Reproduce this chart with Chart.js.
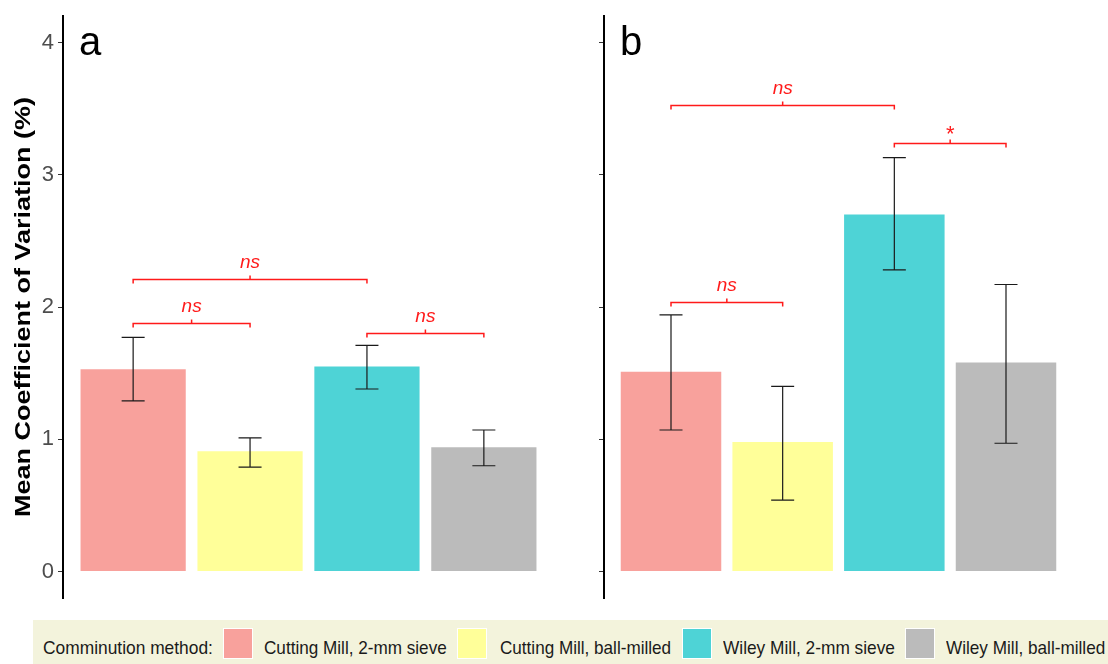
<!DOCTYPE html>
<html>
<head>
<meta charset="utf-8">
<script src="https://cdn.jsdelivr.net/npm/chart.js@4.4.1/dist/chart.umd.min.js"></script>
<style>
  body { margin: 0; background: #fff; width: 1108px; height: 664px; overflow: hidden; position: relative; font-family: 'Liberation Sans', Arial, sans-serif; }
  #ca { position: absolute; left: 0; top: 0; }
  #cb { position: absolute; left: 560px; top: 0; }
  #legend { position: absolute; left: 33px; top: 620px; width: 1075px; height: 44px; background: #f3f3dc; }
  .sw { position: absolute; top: 8px; width: 30px; height: 31px; border: 1px solid #fff; box-sizing: border-box; }
  .lt { position: absolute; top: 18px; font-size: 19px; line-height: 19px; white-space: nowrap; transform-origin: 0 0; color: #1a1a1a; }
</style>
</head>
<body>
<canvas id="ca" width="560" height="610"></canvas>
<canvas id="cb" width="548" height="610"></canvas>
<div id="legend"></div>
<script>
// groups (same for both panels)
const methods = ['Cutting Mill, 2-mm sieve', 'Cutting Mill, ball-milled', 'Wiley Mill, 2-mm sieve', 'Wiley Mill, ball-milled'];
const colors = ['#F8A19C', '#FFFF99', '#4ED3D6', '#BBBBBB'];
const yTicks = [0, 1, 2, 3, 4];

// panel a
const meanA = [1.53, 0.91, 1.55, 0.94];
const lowA  = [1.29, 0.79, 1.38, 0.80];
const highA = [1.77, 1.01, 1.71, 1.07];
// [from, to, height, label]
const bracketsA = [[0, 1, 1.88, 'ns'], [0, 2, 2.21, 'ns'], [2, 3, 1.80, 'ns']];

// panel b
const meanB = [1.51, 0.98, 2.70, 1.58];
const lowB  = [1.07, 0.54, 2.28, 0.97];
const highB = [1.94, 1.40, 3.13, 2.17];
const bracketsB = [[0, 1, 2.04, 'ns'], [0, 2, 3.53, 'ns'], [2, 3, 3.24, '*']];

const FONT = "'Liberation Sans', Arial, sans-serif";

// error bars, brackets, panel letter, axis title
const extras = {
    id: 'extras',
    afterDatasetsDraw(chart, args, opts) {
        const ctx = chart.ctx;
        const x = chart.scales.x, y = chart.scales.y;
        ctx.save();
        // error bars
        ctx.strokeStyle = '#1a1a1a';
        ctx.lineWidth = 1.2;
        opts.low.forEach((lo, i) => {
            const px = x.getPixelForValue(i);
            const y1 = y.getPixelForValue(lo), y2 = y.getPixelForValue(opts.high[i]);
            ctx.beginPath();
            ctx.moveTo(px, y1); ctx.lineTo(px, y2);
            ctx.moveTo(px - 11.5, y1); ctx.lineTo(px + 11.5, y1);
            ctx.moveTo(px - 11.5, y2); ctx.lineTo(px + 11.5, y2);
            ctx.stroke();
        });
        // significance brackets
        ctx.strokeStyle = '#ff1a1a';
        ctx.fillStyle = '#ff1a1a';
        ctx.lineWidth = 1.5;
        ctx.textAlign = 'center';
        opts.brackets.forEach(b => {
            const x1 = x.getPixelForValue(b[0]), x2 = x.getPixelForValue(b[1]);
            const py = Math.round(y.getPixelForValue(b[2])) + 0.5;
            const mid = (x1 + x2) / 2;
            ctx.beginPath();
            ctx.moveTo(x1, py + 4); ctx.lineTo(x1, py); ctx.lineTo(x2, py); ctx.lineTo(x2, py + 4);
            ctx.moveTo(mid, py); ctx.lineTo(mid, py - 4);
            ctx.stroke();
            if (b[3] === '*') {
                ctx.font = '22px ' + FONT;
                ctx.fillText('*', mid, py - 3);
            } else {
                ctx.font = 'italic 19px ' + FONT;
                ctx.fillText(b[3], mid, py - 12);
            }
        });
        // panel letter
        ctx.fillStyle = '#000';
        ctx.textAlign = 'left';
        ctx.font = '40px ' + FONT;
        ctx.fillText(opts.letter, chart.chartArea.left + 16, 55);
        // y title
        if (opts.title) {
            ctx.translate(24, 307);
            ctx.rotate(-Math.PI / 2);
            ctx.font = 'bold 22px ' + FONT;
            ctx.textAlign = 'center';
            ctx.textBaseline = 'middle';
            const w = ctx.measureText(opts.title).width;
            ctx.scale(420 / w, 1);
            ctx.fillText(opts.title, 0, 0);
        }
        ctx.restore();
    }
};

function makePanel(id, means, lows, highs, brackets, letter, showLabels, axisW, padRight, title) {
    const ctx = document.getElementById(id).getContext('2d');
    return new Chart(ctx, {
        type: 'bar',
        data: {
            datasets: [{
                data: means.map((v, i) => ({ x: i, y: v })),
                backgroundColor: colors,
                borderWidth: 0,
                barPercentage: 0.9,
                categoryPercentage: 1
            }]
        },
        options: {
            responsive: false,
            animation: false,
            devicePixelRatio: 1,
            layout: { padding: { left: 0, right: padRight, top: 16, bottom: 12 } },
            plugins: {
                legend: { display: false },
                tooltip: { enabled: false },
                extras: { low: lows, high: highs, brackets: brackets, letter: letter, title: title }
            },
            scales: {
                x: {
                    type: 'linear', min: -0.6, max: 3.6, display: false, offset: false,
                    grid: { offset: false },
                    afterBuildTicks: s => { s.ticks = [0, 1, 2, 3].map(v => ({ value: v })); }
                },
                y: {
                    min: -0.2, max: 4.2,
                    afterBuildTicks: s => { s.ticks = yTicks.map(v => ({ value: v })); },
                    afterFit: s => { s.width = axisW; s.paddingTop = 0; s.paddingBottom = 0; },
                    grid: { drawOnChartArea: false, drawTicks: true, tickLength: 5, color: '#333', lineWidth: 1 },
                    border: { display: true, color: '#000', width: 2 },
                    ticks: {
                        color: '#4d4d4d', padding: 4,
                        font: { family: FONT, size: 22 },
                        callback: v => showLabels ? String(v) : ''
                    }
                }
            }
        },
        plugins: [extras]
    });
}

makePanel('ca', meanA, lowA, highA, bracketsA, 'a', true, 63, 6, 'Mean Coefficient of Variation (%)');
makePanel('cb', meanB, lowB, highB, bracketsB, 'b', false, 44, 35, null);

// legend strip
const legend = document.getElementById('legend');
const legendItems = [['Comminution method:', 10, 170, null]];
const swX = [190, 424, 649, 872];
const txt = [[231, 183], [467, 171], [690, 172], [913, 159]];
methods.forEach((m, i) => legendItems.push([m, txt[i][0], txt[i][1], i]));
legendItems.forEach(([label, left, width, ci]) => {
    if (ci !== null) {
        const sw = document.createElement('div');
        sw.className = 'sw';
        sw.style.left = swX[ci] + 'px';
        sw.style.background = colors[ci];
        legend.appendChild(sw);
    }
    const t = document.createElement('span');
    t.className = 'lt';
    t.textContent = label;
    t.style.left = left + 'px';
    legend.appendChild(t);
    t.style.transform = 'scaleX(' + (width / t.offsetWidth) + ')';
});
</script>
</body>
</html>
